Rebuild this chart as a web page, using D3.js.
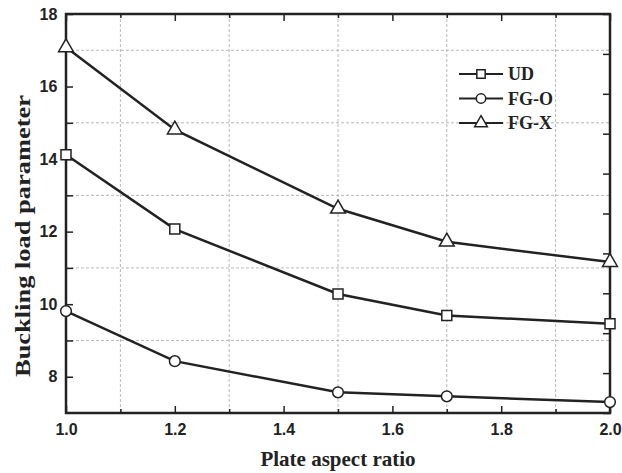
<!DOCTYPE html>
<html lang="en">
<head>
<meta charset="utf-8">
<title>Buckling load parameter</title>
<script src="https://d3js.org/d3.v7.min.js"></script>
<style>
  body { margin: 0; background: #fff; }
  .tick-label { font-family: "Liberation Sans", Arial, sans-serif; font-weight: bold; font-size: 16px; fill: #222; }
  .title { font-family: "Liberation Serif", "Times New Roman", serif; font-weight: bold; font-size: 21px; fill: #222; }
  .legend { font-family: "Liberation Serif", "Times New Roman", serif; font-weight: bold; font-size: 18px; fill: #222; }
</style>
</head>
<body>
<div id="chart"></div>
<script>
// data
let ratios = [1.0, 1.2, 1.5, 1.7, 2.0];
let udValues = [14.12, 12.07, 10.28, 9.69, 9.46];
let fgoValues = [9.81, 8.43, 7.57, 7.46, 7.30];
let fgxValues = [17.08, 14.81, 12.63, 11.72, 11.16];
let seriesNames = ["UD", "FG-O", "FG-X"];
let seriesMarkers = ["square", "circle", "triangle"];
let xTickLabels = ["1.0", "1.2", "1.4", "1.6", "1.8", "2.0"];
let yTickLabels = ["8", "10", "12", "14", "16", "18"];

let allSeries = [udValues, fgoValues, fgxValues];

let w = 622, h = 473;
let pLeft = 66, pRight = 610, pTop = 14, pBottom = 413;
let ink = "#222";

let svg = d3.select("#chart").append("svg")
  .attr("width", w)
  .attr("height", h);

let x = d3.scaleLinear().domain([1.0, 2.0]).range([pLeft, pRight]);
let y = d3.scaleLinear().domain([7, 18]).range([pBottom, pTop]);
// right-hand frame has its own evenly spaced ticks
let yRight = d3.scaleLinear().domain([0, 10]).range([pBottom, pTop]);

// dashed grid at the half-way (minor) positions
let xMinor = [1.1, 1.3, 1.5, 1.7, 1.9];
let yMinor = [9, 11, 13, 15, 17];
svg.append("g").selectAll("line").data(xMinor).enter().append("line")
  .attr("x1", d => x(d)).attr("x2", d => x(d))
  .attr("y1", pTop).attr("y2", pBottom)
  .attr("stroke", "#b8b8b8").attr("stroke-width", 1)
  .attr("stroke-dasharray", "3,2");
svg.append("g").selectAll("line").data(yMinor).enter().append("line")
  .attr("x1", pLeft).attr("x2", pRight)
  .attr("y1", d => y(d)).attr("y2", d => y(d))
  .attr("stroke", "#b8b8b8").attr("stroke-width", 1)
  .attr("stroke-dasharray", "3,2");

// axes with inward ticks
let xMajor = xTickLabels.map(Number);
let yMajor = yTickLabels.map(Number);

let bottomAxis = d3.axisBottom(x).tickValues(xMajor).tickSize(-7).tickFormat(d3.format(".1f"));
let topAxis = d3.axisTop(x).tickValues(xMajor).tickSize(-7).tickFormat("");
let leftAxis = d3.axisLeft(y).tickValues(yMajor).tickSize(-7).tickFormat(d3.format("d"));
let rightAxis = d3.axisRight(yRight).ticks(10).tickSize(-7).tickFormat("");

function styleAxis(g) {
  g.selectAll(".domain").remove();
  g.selectAll(".tick line").attr("stroke", ink).attr("stroke-width", 1.5);
  g.selectAll(".tick text").attr("class", "tick-label").attr("fill", ink);
}

svg.append("g").attr("transform", `translate(0,${pBottom})`).call(bottomAxis).call(styleAxis)
  .selectAll(".tick text").attr("dy", "1.2em");
svg.append("g").attr("transform", `translate(0,${pTop})`).call(topAxis).call(styleAxis);
svg.append("g").attr("transform", `translate(${pLeft},0)`).call(leftAxis).call(styleAxis)
  .selectAll(".tick text").attr("dx", "-0.35em");
svg.append("g").attr("transform", `translate(${pRight},0)`).call(rightAxis).call(styleAxis);

// minor ticks
svg.append("g").attr("transform", `translate(0,${pBottom})`)
  .call(d3.axisBottom(x).tickValues(xMinor).tickSize(-4).tickFormat("")).call(styleAxis);
svg.append("g").attr("transform", `translate(0,${pTop})`)
  .call(d3.axisTop(x).tickValues(xMinor).tickSize(-4).tickFormat("")).call(styleAxis);
svg.append("g").attr("transform", `translate(${pLeft},0)`)
  .call(d3.axisLeft(y).tickValues(yMinor).tickSize(-7).tickFormat("")).call(styleAxis);

// frame
svg.append("rect")
  .attr("x", pLeft).attr("y", pTop)
  .attr("width", pRight - pLeft).attr("height", pBottom - pTop)
  .attr("fill", "none").attr("stroke", ink).attr("stroke-width", 2.5);

// lines
let line = d3.line().x((d, i) => x(ratios[i])).y(d => y(d));
let symbolTypes = { square: d3.symbolSquare, circle: d3.symbolCircle, triangle: d3.symbolTriangle };
let symbolSizes = { square: 100, circle: 90, triangle: 95 };

allSeries.forEach(function(vals, k) {
  let m = seriesMarkers[k];
  svg.append("path")
    .attr("d", line(vals))
    .attr("fill", "none")
    .attr("stroke", ink)
    .attr("stroke-width", 2.5);
  svg.append("g").selectAll("path").data(vals).enter().append("path")
    .attr("d", d3.symbol().type(symbolTypes[m]).size(symbolSizes[m])())
    .attr("transform", (d, i) => `translate(${x(ratios[i])},${y(d)})`)
    .attr("fill", "#fff")
    .attr("stroke", ink)
    .attr("stroke-width", 1.5);
});

// legend
let legend = svg.append("g").attr("transform", "translate(459,74)");
seriesNames.forEach(function(name, k) {
  let m = seriesMarkers[k];
  let g = legend.append("g").attr("transform", `translate(0,${k * 24.5})`);
  g.append("line").attr("x1", 0).attr("x2", 44).attr("y1", 0).attr("y2", 0)
    .attr("stroke", ink).attr("stroke-width", 2);
  g.append("path").attr("d", d3.symbol().type(symbolTypes[m]).size(70)())
    .attr("transform", "translate(22,0)")
    .attr("fill", "#fff").attr("stroke", ink).attr("stroke-width", 1.5);
  g.append("text").attr("class", "legend").attr("x", 49).attr("y", 6).text(name);
});

// axis titles
svg.append("text").attr("class", "title")
  .attr("x", 338).attr("y", 466)
  .attr("text-anchor", "middle")
  .text("Plate aspect ratio");
// the y title is drawn stretched along its length, as in the source figure
svg.append("text").attr("class", "title")
  .attr("transform", "translate(30,236) rotate(-90)")
  .attr("text-anchor", "middle")
  .attr("textLength", 282)
  .attr("lengthAdjust", "spacingAndGlyphs")
  .text("Buckling load parameter");
</script>
</body>
</html>
